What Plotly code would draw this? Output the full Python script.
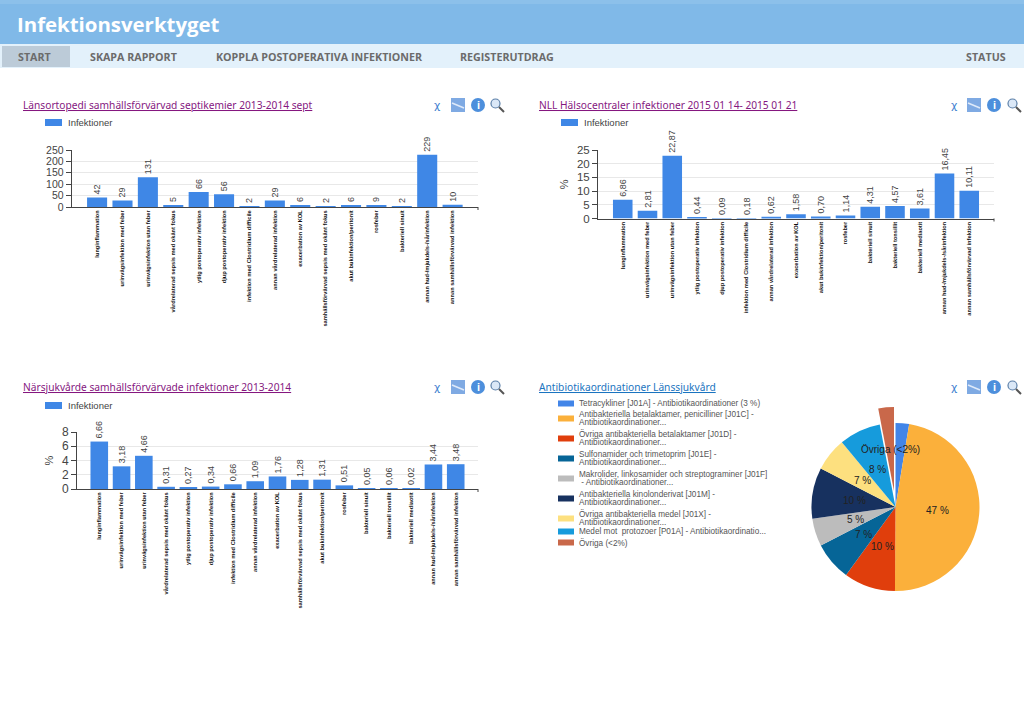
import math
import plotly.graph_objects as go

W = 1024
H = 709

# chart data
cats_ort = ["lunginflammation", "urinvägsinfektion med feber", "urinvägsinfektion utan feber",
            "vårdrelaterad sepsis med okänt fokus", "ytlig postoperativ infektion", "djup postoperativ infektion",
            "infektion med Clostridium difficile", "annan vårdrelaterad infektion", "exacerbation av KOL",
            "samhällsförvärvad sepsis med okänt fokus", "akut bukinfektion/peritonit", "rosfeber",
            "bakteriell sinuit", "annan hud-/mjukdels-/sårinfektion", "annan samhällsförvärvad infektion"]
vals_ort = [42, 29, 131, 5, 66, 56, 2, 29, 6, 2, 6, 9, 2, 229, 10]
text_ort = ["42", "29", "131", "5", "66", "56", "2", "29", "6", "2", "6", "9", "2", "229", "10"]

cats_nll = ["lunginflammation", "urinvägsinfektion med feber", "urinvägsinfektion utan feber",
            "ytlig postoperativ infektion", "djup postoperativ infektion", "infektion med Clostridium difficile",
            "annan vårdrelaterad infektion", "exacerbation av KOL", "akut bukinfektion/peritonit", "rosfeber",
            "bakteriell sinuit", "bakteriell tonsillit", "bakteriell mediaotit",
            "annan hud-/mjukdels-/sårinfektion", "annan samhällsförvärvad infektion"]
vals_nll = [6.86, 2.81, 22.87, 0.44, 0.09, 0.18, 0.62, 1.58, 0.70, 1.14, 4.31, 4.57, 3.61, 16.45, 10.11]
text_nll = ["6,86", "2,81", "22,87", "0,44", "0,09", "0,18", "0,62", "1,58", "0,70", "1,14", "4,31", "4,57",
            "3,61", "16,45", "10,11"]

cats_nar = ["lunginflammation", "urinvägsinfektion med feber", "urinvägsinfektion utan feber",
            "vårdrelaterad sepsis med okänt fokus", "ytlig postoperativ infektion", "djup postoperativ infektion",
            "infektion med Clostridium difficile", "annan vårdrelaterad infektion", "exacerbation av KOL",
            "samhällsförvärvad sepsis med okänt fokus", "akut bukinfektion/peritonit", "rosfeber",
            "bakteriell sinuit", "bakteriell tonsillit", "bakteriell mediaotit",
            "annan hud-/mjukdels-/sårinfektion", "annan samhällsförvärvad infektion"]
vals_nar = [6.66, 3.18, 4.66, 0.31, 0.27, 0.34, 0.66, 1.09, 1.76, 1.28, 1.31, 0.51, 0.05, 0.06, 0.02, 3.44, 3.48]
text_nar = ["6,66", "3,18", "4,66", "0,31", "0,27", "0,34", "0,66", "1,09", "1,76", "1,28", "1,31", "0,51",
            "0,05", "0,06", "0,02", "3,44", "3,48"]

pie_legend = [["Tetracykliner [J01A] - Antibiotikaordinationer (3 %)"],
              ["Antibakteriella betalaktamer, penicilliner [J01C] -", "Antibiotikaordinationer..."],
              ["Övriga antibakteriella betalaktamer [J01D] -", "Antibiotikaordinationer..."],
              ["Sulfonamider och trimetoprim [J01E] -", "Antibiotikaordinationer..."],
              ["Makrolider, linkosamider och streptograminer [J01F]", " - Antibiotikaordinationer..."],
              ["Antibakteriella kinolonderivat [J01M] -", "Antibiotikaordinationer..."],
              ["Övriga antibakteriella medel [J01X] -", "Antibiotikaordinationer..."],
              ["Medel mot  protozoer [P01A] - Antibiotikaordinatio..."],
              ["Övriga (<2%)"]]
pie_vals = [2.6, 47.4, 9.9, 7.4, 5.3, 9.8, 6.4, 8.0, 3.0]
pie_text = ["", "47 %", "10 %", "7 %", "5 %", "10 %", "7 %", "8 %", "Övriga (<2%)"]
pie_colors = ["#4285e8", "#fbb03b", "#e03e0c", "#066597", "#bcbcbc", "#17315f", "#fde07f", "#169bdc", "#c9684a"]
pie_pull = [0, 0, 0, 0, 0, 0, 0, 0, 0.19]

nav_items = [("START", 18), ("SKAPA RAPPORT", 90), ("KOPPLA POSTOPERATIVA INFEKTIONER", 216),
             ("REGISTERUTDRAG", 460), ("STATUS", 966)]

BAR = "#3f87e6"
TEXT = "#444444"


def px(x):
    return x / W


def py(y):
    return 1 - y / H


fig = go.Figure()
annos = []
shapes = []


def rect(x0, y0, x1, y1, color):
    shapes.append(dict(type="rect", xref="paper", yref="paper", x0=px(x0), x1=px(x1), y0=py(y0), y1=py(y1),
                       fillcolor=color, line=dict(width=0), layer="below"))


def label(x, y, text, size, color=TEXT, family="Liberation Sans", xanchor="left", align="left"):
    annos.append(dict(xref="paper", yref="paper", x=px(x), y=py(y), text=text, showarrow=False, xanchor=xanchor,
                      yanchor="middle", align=align, borderpad=0, font=dict(size=size, color=color, family=family)))


def add_icons(xs, y):
    # the four small tool icons above each chart
    label(xs[0], y, "χ", 11, color="#3f7fd0", family="DejaVu Sans", xanchor="center")
    rect(xs[1] - 7, y - 7, xs[1] + 7, y + 7, "#7faae3")
    shapes.append(dict(type="line", xref="paper", yref="paper", x0=px(xs[1] - 6), x1=px(xs[1] + 6), y0=py(y - 2),
                       y1=py(y + 3), line=dict(color="#dfeafa", width=1.5)))
    shapes.append(dict(type="circle", xref="paper", yref="paper", x0=px(xs[2] - 7), x1=px(xs[2] + 7), y0=py(y - 7),
                       y1=py(y + 7), fillcolor="#4d8fdc", line=dict(width=0)))
    label(xs[2], y, "<b>i</b>", 11, color="white", xanchor="center")
    shapes.append(dict(type="circle", xref="paper", yref="paper", x0=px(xs[3] - 6), x1=px(xs[3] + 3), y0=py(y - 6),
                       y1=py(y + 3), fillcolor="#dbe8f7", line=dict(color="#5b7fa8", width=1.2)))
    shapes.append(dict(type="line", xref="paper", yref="paper", x0=px(xs[3] + 2), x1=px(xs[3] + 7), y0=py(y + 2),
                       y1=py(y + 7), line=dict(color="#555555", width=2)))


def add_bars(idx, cats, vals, text, x0, x1, y_top, y_zero, y_max, dtick, tick_size, ytitle=None):
    suffix = "" if idx == 1 else str(idx)
    fig.add_trace(go.Bar(x=list(range(len(cats))), y=vals, text=text, name="Infektioner",
                         xaxis="x" + suffix, yaxis="y" + suffix,
                         textposition="outside", textangle=-90, constraintext="none", cliponaxis=False,
                         textfont=dict(size=9, color=TEXT, family="Liberation Sans"),
                         marker=dict(color=BAR, line=dict(width=0)), showlegend=False))
    fig.update_layout({
        "xaxis" + suffix: dict(domain=[px(x0), px(x1)], anchor="y" + suffix, range=[-1, len(cats)],
                               tickmode="array", tickvals=list(range(len(cats))), ticktext=cats, tickangle=-90,
                               tickfont=dict(size=5.7, color="#111111", family="Liberation Sans", weight="bold"),
                               ticks="", showgrid=False, zeroline=False, showline=True, automargin=False,
                               linecolor="#444444", linewidth=1),
        "yaxis" + suffix: dict(domain=[py(y_zero), py(y_top)], anchor="x" + suffix, range=[0, y_max], dtick=dtick,
                               tickfont=dict(size=tick_size, color=TEXT, family="Liberation Sans"),
                               ticks="outside", ticklen=5, tickcolor="#444444", showline=True, automargin=False,
                               linecolor="#444444", linewidth=1, showgrid=True, gridcolor="#e8e8e8", zeroline=False,
                               title=dict(text=ytitle, standoff=6,
                                          font=dict(size=11, color=TEXT, family="Liberation Sans"))
                               if ytitle else None),
    })
    # the x axis closes with a short tick at its right end
    shapes.append(dict(type="line", xref="paper", yref="paper", x0=px(x1), x1=px(x1), y0=py(y_zero),
                       y1=py(y_zero + 3), line=dict(color="#444444", width=1)))


# page header
rect(0, 0, W, 44, "#80b9e8")
rect(0, 0, W, 4, "#8cc0ea")
rect(0, 44, W, 68, "#e3f1fb")
rect(2, 46, 70, 67, "#bccbd8")
label(16, 24, "<b>Infektionsverktyget</b>", 20.4, color="white", family="Open Sans")
for name, nav_x in nav_items:
    label(nav_x - 1, 57, "<b>" + name + "</b>", 10.7, color="#6b6b6b", family="Open Sans")

# bar charts
add_bars(1, cats_ort, vals_ort, text_ort, 71.7, 478, 150, 207, 250, 50, 10.5)
add_bars(2, cats_nll, vals_nll, text_nll, 598, 994, 150, 218.5, 25, 5, 11.5, "%")
add_bars(3, cats_nar, vals_nar, text_nar, 77, 478, 432, 489, 8, 2, 12, "%")

# pie chart
cx, cy, radius = 895.5, 507, 84
max_pull = max(pie_pull)
half = radius * (1 + max_pull)
fig.add_trace(go.Pie(labels=[" ".join(t) for t in pie_legend], values=pie_vals, sort=False,
                     direction="clockwise", rotation=0, pull=pie_pull, textinfo="none", showlegend=False,
                     marker=dict(colors=pie_colors, line=dict(width=0)),
                     domain=dict(x=[px(cx - half), px(cx + half)], y=[py(cy + half), py(cy - half)])))

# slice labels sit halfway along each slice's middle radius
cum = 0
total = sum(pie_vals)
for v, t, p in zip(pie_vals, pie_text, pie_pull):
    mid = (cum + v / 2) / total * 2 * math.pi
    cum += v
    if t:
        dist = radius * (0.5 + p)
        label(cx + dist * math.sin(mid), cy - dist * math.cos(mid), t, 10, color="#222222", xanchor="center",
              align="center")

# bar chart legends
for lx, ly in [(45, 122.5), (561, 122.5), (45, 405.5)]:
    rect(lx, ly - 3.5, lx + 17, ly + 3.5, BAR)
    label(lx + 22, ly, "Infektioner", 9.5)

# pie legend
legend_y = [403.5, 418.5, 438.5, 458.5, 478.5, 498.5, 518.5, 531.5, 542.5]
for lines, c, ly in zip(pie_legend, pie_colors, legend_y):
    rect(558, ly - 3, 574, ly + 3, c)
    for i, line in enumerate(lines):
        label(578, ly + (i - (len(lines) - 1) / 2) * 8.4, line, 8.2, color="#555555")

# chart titles
label(22, 105, "<u>Länsortopedi samhällsförvärvad septikemier 2013-2014 sept</u>", 10.2, color="#85177f", family="Noto Sans")
label(538, 105, "<u>NLL Hälsocentraler infektioner 2015 01 14- 2015 01 21</u>", 10.2, color="#85177f", family="Noto Sans")
label(22, 387, "<u>Närsjukvårde samhällsförvärvade infektioner 2013-2014</u>", 10.2, color="#85177f", family="Noto Sans")
label(538, 387, "<u>Antibiotikaordinationer Länssjukvård</u>", 10.2, color="#1a74c0", family="Noto Sans")

add_icons([437, 458, 478, 497], 105)
add_icons([954, 974, 994, 1014], 105)
add_icons([437, 458, 478, 497], 387)
add_icons([954, 974, 994, 1014], 387)

fig.update_layout(width=W, height=H, margin=dict(l=0, r=0, t=0, b=0, autoexpand=False), autosize=False,
                  paper_bgcolor="white", plot_bgcolor="white", bargap=0.21,
                  shapes=shapes, annotations=annos, showlegend=False)

fig.write_html("out.html", config=dict(displayModeBar=False),
               post_script="document.body.style.margin='0';document.body.style.overflow='hidden';")
